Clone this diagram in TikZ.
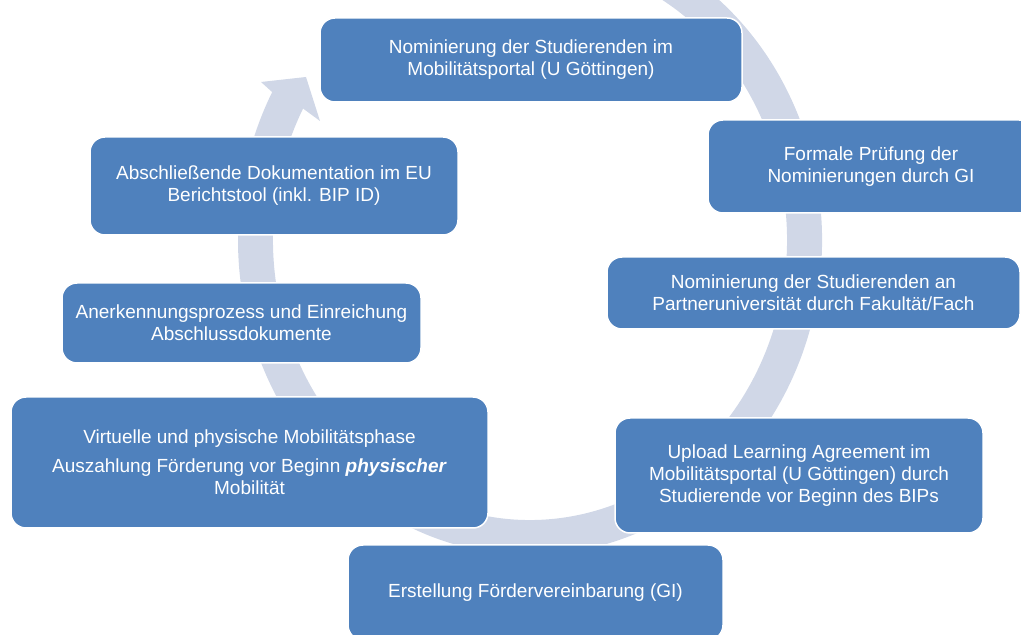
\documentclass[tikz,border=0pt]{standalone}
\usepackage{fontspec}
\setmainfont{Liberation Sans}
\definecolor{boxblue}{RGB}{79,129,189}
\definecolor{ringgray}{RGB}{208,215,231}
\begin{document}
\begin{tikzpicture}[x=1pt,y=1pt,
  box/.style={draw=white, line width=1.5pt, fill=boxblue, rounded corners=15pt,
    text=white, align=center, inner sep=4pt,
    font=\fontsize{19}{22}\selectfont},
  ring/.style={fill=ringgray}]
\useasboundingbox (0,0) rectangle (1021,635);
\clip (0,0) rectangle (1021,635);
% circular arrow
\fill[ring] ([shift={(530,395)}]105:292 and 315)
  arc[start angle=105, end angle=-208, x radius=292, y radius=315]
  -- (261,553) -- (306,558) -- (320,514)
  -- ([shift={(530,395)}]-208:257 and 280)
  arc[start angle=-208, end angle=105, x radius=257, y radius=280]
  -- cycle;
% boxes
\node[box, minimum width=422pt, minimum height=84pt] (b1) at (531,575)
  {Nominierung der Studierenden im\\Mobilitätsportal (U Göttingen)};
\node[box, minimum width=326pt, minimum height=93pt] (b2) at (871,468.5)
  {Formale Prüfung der\\Nominierungen durch GI};
\node[box, minimum width=413pt, minimum height=72pt] (b3) at (813.5,342)
  {Nominierung der Studierenden an\\Partneruniversität durch Fakultät/Fach};
\node[box, minimum width=368pt, minimum height=115pt] (b4) at (799,159.5)
  {Upload Learning Agreement im\\Mobilitätsportal (U Göttingen) durch\\Studierende vor Beginn des BIPs};
\node[box, minimum width=375pt, minimum height=95pt] (b5) at (535.5,42.5)
  {Erstellung Fördervereinbarung (GI)};
\node[box, minimum width=477pt, minimum height=131pt] (b6) at (249.5,172.5)
  {Virtuelle und physische Mobilitätsphase\\[7pt]Auszahlung Förderung vor Beginn \textbf{\textit{physischer}}\\Mobilität};
\node[box, minimum width=359pt, minimum height=80pt] (b7) at (241.5,312)
  {Anerkennungsprozess und Einreichung\\Abschlussdokumente};
\node[box, minimum width=368pt, minimum height=98pt] (b8) at (274,449)
  {Abschließende Dokumentation im EU\\Berichtstool (inkl. BIP ID)};
\end{tikzpicture}
\end{document}
